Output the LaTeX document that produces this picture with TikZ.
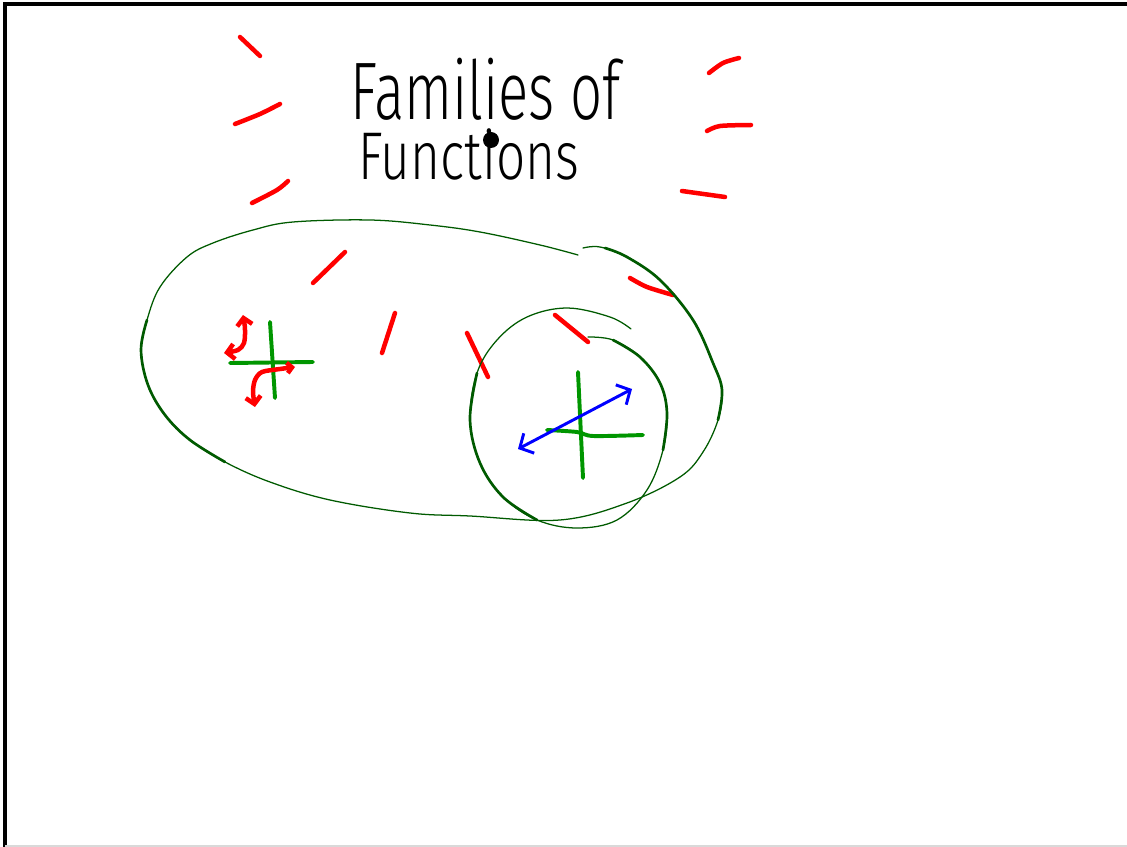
\documentclass[tikz,border=0pt]{standalone}
\usepackage{fontspec}
\usepackage{tikz}
\usepackage{xcolor}
\usetikzlibrary{arrows.meta, positioning}
\newfontfamily\handfont{Fira Sans Light}
\definecolor{cInk}{RGB}{0,0,0}
\definecolor{cRed}{RGB}{255,0,0}
\definecolor{cLoop}{RGB}{0,90,0}
\definecolor{cAxis}{RGB}{0,150,0}
\definecolor{cBlue}{RGB}{0,0,255}
\tikzset{
	% pen strokes
	redstroke/.style ={cRed, line width=3.2pt, line cap=round, line join=round},
	loopthin/.style  ={cLoop, line width=0.9pt, line cap=round},
	loopthick/.style ={cLoop, line width=1.9pt, line cap=round},
	axisline/.style  ={cAxis, line width=2.8pt, line cap=round},
	bluestroke/.style={cBlue, line width=2.1pt, line cap=round, line join=round},
	% handwritten text
	titletext/.style ={cInk, inner sep=0pt, align=left, font=\handfont\fontsize{58}{42.7}\selectfont},
	% frame
	frameline/.style ={cInk, line width=2.2pt},
}

\begin{document}
\begin{tikzpicture}[x=0.025cm, y=-0.025cm]
	\useasboundingbox (0,0) rectangle (1127,847);
	\draw[frameline] (5,847) -- (5,4) -- (1127,4);
	\draw[black!15, line width=0.8pt] (5,846) -- (1127,846);

	% title
	\node[titletext, anchor=base west] (title) at (350,180) {\scalebox{0.69}[1]{Families of}\\
		\hspace*{5.7pt}\fontsize{48}{42.7}\selectfont\scalebox{0.76}[1]{Functions}};
	\fill[cInk] (491,140) circle[radius=8];

	% red streaks round the title
	\draw[redstroke] (240,37) -- (260,56);
	\draw[redstroke] plot[smooth] coordinates {(235,124) (260,114) (280,104)};
	\draw[redstroke] plot[smooth] coordinates {(252,203) (277,190) (288,181)};
	\draw[redstroke] plot[smooth] coordinates {(709,73) (723,63) (739,58)};
	\draw[redstroke] plot[smooth] coordinates {(707,131) (720,126) (751,125)};
	\draw[redstroke] (682,191) -- (725,197);
	\draw[redstroke] (313,283) -- (345,252);
	\draw[redstroke] (382,353) -- (395,313);
	\draw[redstroke] (467,333) -- (488,377);
	\draw[redstroke] (555,315) -- (588,342);
	\draw[redstroke] plot[smooth] coordinates {(630,278) (647,287) (673,295)};

	% big loop
	\draw[loopthin] plot[smooth, tension=0.6] coordinates {(578,255) (540,245) (480,232) (430,225) (370,220) (293,222) (253,230) (213,243) (187,257) (160,287) (147,320) (141,350) (148,385) (165,415) (190,440) (225,462) (270,482) (330,500) (410,513) (470,516) (560,520) (627,503) (680,477) (703,452) (718,420) (722,390) (713,363) (693,320) (660,280) (627,257) (600,247) (583,248)};
	\draw[loopthick] plot[smooth, tension=0.6] coordinates {(147,320) (141,350) (148,385) (165,415) (190,440) (225,462)};
	\draw[loopthick] plot[smooth, tension=0.6] coordinates {(718,420) (722,390) (713,363) (693,320) (660,280) (627,257) (605,248)};

	% small spiral
	\draw[loopthin] plot[smooth, tension=0.6] coordinates {(631,329) (610,317) (567,308) (527,317) (497,340) (477,373) (470,420) (480,463) (503,497) (537,520) (577,528) (617,520) (647,490) (663,450) (667,413) (660,383) (640,357) (613,340) (588,337)};
	\draw[loopthick] plot[smooth, tension=0.6] coordinates {(477,373) (470,420) (480,463) (503,497) (537,520)};
	\draw[loopthick] plot[smooth, tension=0.6] coordinates {(663,450) (667,413) (660,383) (640,357) (613,340)};

	% left axes with odd function
	\draw[axisline] (270,322) -- (275,398);
	\draw[axisline] (230,363) -- (313,362);
	\draw[redstroke, {Straight Barb[length=1.8mm, width=3.8mm]}-{Straight Barb[length=1.8mm, width=3.8mm]}] plot[smooth] coordinates {(243,315) (245,330) (244,343) (238,350) (224,353)};
	\draw[redstroke, {Straight Barb[length=1.2mm, width=2.6mm]}-{Straight Barb[length=1.8mm, width=3.8mm]}] plot[smooth] coordinates {(295,367) (280,369) (262,372) (255,380) (253,392) (255,407)};

	% right axes with line
	\draw[axisline] (578,372) -- (583,478);
	\draw[axisline] plot[smooth] coordinates {(547,430) (577,432) (593,436) (643,435)};
	\draw[bluestroke, {Straight Barb[length=2.6mm, width=5.6mm]}-{Straight Barb[length=2.6mm, width=5.6mm]}] (518,449) -- (632,389);
\end{tikzpicture}
\end{document}
